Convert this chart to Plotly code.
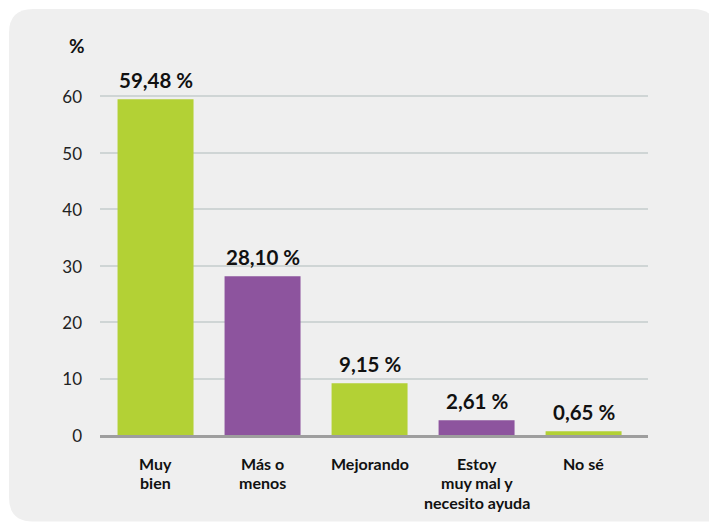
import plotly.graph_objects as go

categories = ["Muy<br>bien", "Más o<br>menos", "Mejorando", "Estoy<br>muy mal y<br>necesito ayuda", "No sé"]
values = [59.48, 28.10, 9.15, 2.61, 0.65]
value_labels = ["59,48 %", "28,10 %", "9,15 %", "2,61 %", "0,65 %"]
bar_colors = ["#b3d135", "#8d549e", "#b3d135", "#8d549e", "#b3d135"]
y_ticks = [0, 10, 20, 30, 40, 50, 60]
y_title = "%"

OFF = 8  # page body margin
W, H = 717 - OFF, 522 - OFF
ML, MR, MT, MB = 100 - OFF, 69, 68 - OFF, 87
PW, PH = W - ML - MR, H - MT - MB
FONT = "Lato"

x_idx = list(range(len(categories)))

fig = go.Figure()
fig.add_trace(go.Bar(
    x=x_idx, y=values,
    marker=dict(color=bar_colors, line=dict(width=0)),
    hoverinfo="skip",
))


def px_x(p):  # screen pixel -> paper
    return (p - OFF - ML) / PW


def px_y(p):
    return (H - MB - (p - OFF)) / PH


# rounded card background
x0, x1, y0, y1 = 9, 716.6, 9, 521.5
r, rbr = 24, 8
path = (
    f"M {px_x(x0 + r)},{px_y(y0)} "
    f"L {px_x(x1 - r)},{px_y(y0)} "
    f"Q {px_x(x1)},{px_y(y0)} {px_x(x1)},{px_y(y0 + r)} "
    f"L {px_x(x1)},{px_y(y1 - rbr)} "
    f"Q {px_x(x1)},{px_y(y1)} {px_x(x1 - rbr)},{px_y(y1)} "
    f"L {px_x(x0 + r)},{px_y(y1)} "
    f"Q {px_x(x0)},{px_y(y1)} {px_x(x0)},{px_y(y1 - r)} "
    f"L {px_x(x0)},{px_y(y0 + r)} "
    f"Q {px_x(x0)},{px_y(y0)} {px_x(x0 + r)},{px_y(y0)} Z"
)
fig.add_shape(type="path", path=path, xref="paper", yref="paper",
              fillcolor="#efefef", line=dict(width=0), layer="below")

annotations = []
# value labels above bars
for i, (v, t) in enumerate(zip(values, value_labels)):
    annotations.append(dict(
        x=i, y=v, xref="x", yref="y", text=t, showarrow=False,
        yanchor="bottom", xanchor="center", yshift=5,
        font=dict(family=FONT, size=20.5, color="#111111", weight="bold"),
    ))
# category labels (line by line for tighter spacing)
for i, c in enumerate(categories):
    for j, line in enumerate(c.split("<br>")):
        annotations.append(dict(
            x=i, y=0, xref="x", yref="y", text=line, showarrow=False,
            yanchor="middle", xanchor="center", yshift=-(28 + 19.5 * j),
            borderpad=0,
            font=dict(family=FONT, size=16, color="#111111", weight="bold"),
        ))
# axis unit
annotations.append(dict(
    x=px_x(77), y=px_y(45), xref="paper", yref="paper", text=y_title,
    showarrow=False, xanchor="center", yanchor="middle",
    font=dict(family=FONT, size=19, color="#111111", weight="bold"),
))

fig.update_layout(
    width=W, height=H,
    margin=dict(l=ML, r=MR, t=MT, b=MB, pad=0),
    paper_bgcolor="white", plot_bgcolor="rgba(0,0,0,0)",
    showlegend=False, bargap=0.29,
    annotations=annotations,
    font=dict(family=FONT, color="#222222"),
)
fig.update_xaxes(
    range=[-0.519, 4.602], showticklabels=False, showgrid=False,
    zeroline=False, showline=True, linecolor="#9e9e9e", linewidth=3,
    ticks="", fixedrange=True,
)
fig.update_yaxes(
    range=[0, 65], tickvals=y_ticks, ticktext=[str(t) for t in y_ticks],
    showgrid=True, gridcolor="#cfd5d5", gridwidth=1.5, zeroline=False,
    showline=False, ticks="", ticklabelstandoff=17, ticklabelshift=1,
    tickfont=dict(family=FONT, size=17, color="#222222"), fixedrange=True,
)

fig.write_html("out.html", config={"displayModeBar": False})
